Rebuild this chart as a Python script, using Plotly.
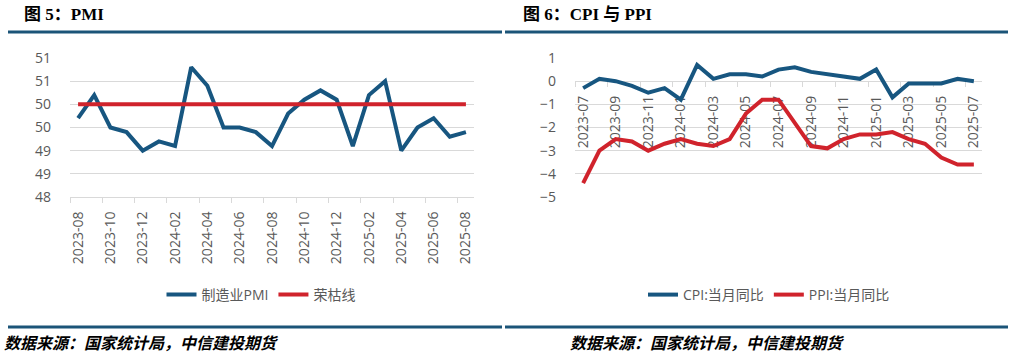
import plotly.graph_objects as go

W, H = 1010, 355

# ---------------- data ----------------
pmi_months = ["2023-08", "2023-09", "2023-10", "2023-11", "2023-12",
              "2024-01", "2024-02", "2024-03", "2024-04", "2024-05", "2024-06",
              "2024-07", "2024-08", "2024-09", "2024-10", "2024-11", "2024-12",
              "2025-01", "2025-02", "2025-03", "2025-04", "2025-05", "2025-06",
              "2025-07", "2025-08"]
pmi_values = [49.7, 50.2, 49.5, 49.4, 49.0, 49.2, 49.1, 50.8, 50.4, 49.5, 49.5,
              49.4, 49.1, 49.8, 50.1, 50.3, 50.1, 49.1, 50.2, 50.5, 49.0, 49.5,
              49.7, 49.3, 49.4]
boom_bust = [50.0] * len(pmi_months)

cpi_months = ["2023-07", "2023-08", "2023-09", "2023-10", "2023-11", "2023-12",
              "2024-01", "2024-02", "2024-03", "2024-04", "2024-05", "2024-06",
              "2024-07", "2024-08", "2024-09", "2024-10", "2024-11", "2024-12",
              "2025-01", "2025-02", "2025-03", "2025-04", "2025-05", "2025-06",
              "2025-07"]
cpi_values = [-0.3, 0.1, 0.0, -0.2, -0.5, -0.3, -0.8, 0.7, 0.1, 0.3, 0.3, 0.2,
              0.5, 0.6, 0.4, 0.3, 0.2, 0.1, 0.5, -0.7, -0.1, -0.1, -0.1, 0.1, 0.0]
ppi_values = [-4.4, -3.0, -2.5, -2.6, -3.0, -2.7, -2.5, -2.7, -2.8, -2.5, -1.4,
              -0.8, -0.8, -1.8, -2.8, -2.9, -2.5, -2.3, -2.3, -2.2, -2.5, -2.7,
              -3.3, -3.6, -3.6]

title_left = "图 5：PMI"
title_right = "图 6：CPI 与 PPI"
source_text = "数据来源：国家统计局，中信建投期货"

# ---------------- style ----------------
BLUE = "#175680"
RED = "#D0232C"
RULE = "#1B5478"
GRID = "#D9D9D9"
TICK = "#595959"
SANS = "Open Sans, Noto Sans CJK SC, sans-serif"
SERIF = "Liberation Serif, Noto Sans CJK SC, serif"


def px_x(x):
    return x / W


def px_y(y):
    return 1 - y / H


xdom1 = [px_x(70), px_x(474)]
xdom2 = [px_x(575), px_x(982)]
ydom = [px_y(197), px_y(58)]

yr2 = [-5, 1]
zero_pos = ydom[0] + (0 - yr2[0]) / (yr2[1] - yr2[0]) * (ydom[1] - ydom[0])

xi1 = list(range(len(pmi_months)))
xi2 = list(range(len(cpi_months)))

fig = go.Figure()
fig.add_trace(go.Scatter(x=xi1, y=pmi_values, mode="lines", name="制造业PMI",
                         line=dict(color=BLUE, width=4), xaxis="x", yaxis="y",
                         legend="legend"))
fig.add_trace(go.Scatter(x=xi1, y=boom_bust, mode="lines", name="荣枯线",
                         line=dict(color=RED, width=4), xaxis="x", yaxis="y",
                         legend="legend"))
fig.add_trace(go.Scatter(x=xi2, y=cpi_values, mode="lines", name="CPI:当月同比",
                         line=dict(color=BLUE, width=4), xaxis="x2", yaxis="y2",
                         legend="legend2"))
fig.add_trace(go.Scatter(x=xi2, y=ppi_values, mode="lines", name="PPI:当月同比",
                         line=dict(color=RED, width=4), xaxis="x2", yaxis="y2",
                         legend="legend2"))

tickfont = dict(family=SANS, size=14, color=TICK)


def xaxis_cfg(months, dom, **kw):
    n = len(months)
    cfg = dict(
        domain=dom, range=[-0.5, n - 0.5], showgrid=False, zeroline=False,
        tickmode="array", tickvals=list(range(0, n, 2)), ticktext=months[::2],
        tickangle=-90, tickfont=tickfont, ticks="",
        showline=True, linecolor=GRID, linewidth=1,
        minor=dict(tickmode="array", tickvals=[i - 0.5 for i in range(0, n + 1, 2)],
                   ticks="outside", ticklen=5, tickcolor=GRID, tickwidth=1, showgrid=False),
        ticklabelstandoff=8, layer="below traces", fixedrange=True,
        automargin=False,
    )
    cfg.update(kw)
    return cfg


fig.update_layout(
    template="none",
    width=W, height=H, margin=dict(l=0, r=0, t=0, b=0, pad=0, autoexpand=False),
    paper_bgcolor="white", plot_bgcolor="white",
    xaxis=xaxis_cfg(pmi_months, xdom1, anchor="y"),
    yaxis=dict(domain=ydom, range=[48, 51], dtick=0.5, tick0=48, tickformat=".0f",
               showgrid=True, gridcolor=GRID, gridwidth=1, zeroline=False,
               tickfont=tickfont, ticks="", showline=False, ticklabelstandoff=18,
               anchor="x", automargin=False, fixedrange=True),
    xaxis2=xaxis_cfg(cpi_months, xdom2, anchor="free", position=zero_pos),
    yaxis2=dict(domain=ydom, range=yr2, dtick=1, tick0=-5,
                showgrid=True, gridcolor=GRID, gridwidth=1, zeroline=False,
                tickfont=tickfont, ticks="", showline=False, ticklabelstandoff=18,
                anchor="x2", automargin=False, fixedrange=True),
    legend=dict(orientation="h", x=px_x(261), xanchor="center", y=px_y(295),
                yanchor="middle", font=dict(family=SANS, size=14, color=TICK),
                bgcolor="rgba(0,0,0,0)"),
    legend2=dict(orientation="h", x=px_x(769), xanchor="center", y=px_y(295),
                 yanchor="middle", font=dict(family=SANS, size=14, color=TICK),
                 bgcolor="rgba(0,0,0,0)"),
    showlegend=True,
)

# titles
fig.add_annotation(text="<b>" + title_left + "</b>", x=px_x(22), y=px_y(15),
                   xref="paper", yref="paper", xanchor="left", yanchor="middle",
                   showarrow=False, font=dict(family=SERIF, size=17, color="black"))
fig.add_annotation(text="<b>" + title_right + "</b>", x=px_x(521), y=px_y(15),
                   xref="paper", yref="paper", xanchor="left", yanchor="middle",
                   showarrow=False, font=dict(family=SERIF, size=17, color="black"))

# sources
fig.add_annotation(text="<b><i>" + source_text + "</i></b>", x=px_x(2), y=px_y(343),
                   xref="paper", yref="paper", xanchor="left", yanchor="middle",
                   showarrow=False, font=dict(family=SANS, size=16, color="black"))
fig.add_annotation(text="<b><i>" + source_text + "</i></b>", x=px_x(568), y=px_y(343),
                   xref="paper", yref="paper", xanchor="left", yanchor="middle",
                   showarrow=False, font=dict(family=SANS, size=16, color="black"))

# rule lines
for x0, x1 in [(8, 502), (505, 1008)]:
    for yy in (32, 327):
        fig.add_shape(type="line", xref="paper", yref="paper",
                      x0=px_x(x0), x1=px_x(x1), y0=px_y(yy), y1=px_y(yy),
                      line=dict(color=RULE, width=3))

fig.write_html("out.html", config={"displayModeBar": False},
               post_script="document.body.style.margin='0';document.body.style.overflow='hidden';")
